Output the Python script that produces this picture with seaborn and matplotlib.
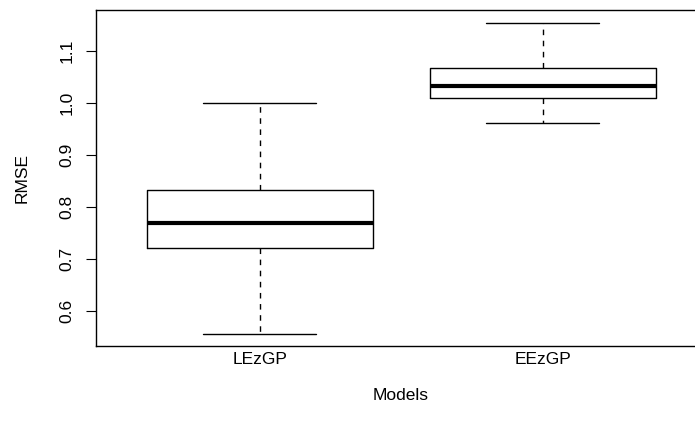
import numpy as np
import pandas as pd
import matplotlib
matplotlib.use("Agg")
import matplotlib.pyplot as plt
import seaborn as sns

models = ["LEzGP", "EEzGP"]
# five-number summaries (min, Q1, median, Q3, max)
lezgp_vals = [0.557, 0.722, 0.769, 0.834, 1.001]
eezgp_vals = [0.963, 1.010, 1.034, 1.068, 1.155]

df = pd.DataFrame({
    "Models": ["LEzGP"] * len(lezgp_vals) + ["EEzGP"] * len(eezgp_vals),
    "RMSE": lezgp_vals + eezgp_vals,
})

sns.set_style("white")
plt.rcParams["font.family"] = ["Liberation Sans", "DejaVu Sans"]
for k in ["text.color", "axes.labelcolor", "xtick.color", "ytick.color", "axes.edgecolor"]:
    plt.rcParams[k] = "black"

fig = plt.figure(figsize=(6.95, 4.3), dpi=100)
W, H = 695, 430
left, right, top, bottom = 95.7, 707.0, 10.3, 346.0
ax = fig.add_axes([left / W, 1 - bottom / H, (right - left) / W, (bottom - top) / H])

sns.boxplot(
    data=df, x="Models", y="RMSE", order=models, ax=ax,
    width=0.8, whis=(0, 100), fill=False, color="black", linewidth=1.0,
    whiskerprops={"linestyle": (0, (4, 4)), "color": "black", "linewidth": 1.0},
    medianprops={"linewidth": 3.0, "color": "black"},
    capprops={"color": "black", "linewidth": 1.0},
    boxprops={"color": "black", "linewidth": 1.0},
)

ax.set_xlim(-0.58, 1.58)
y_lo = 0.6 - (346.0 - 311.3) / 520.0
y_hi = 0.6 + (311.3 - 10.3) / 520.0
ax.set_ylim(y_lo, y_hi)
ax.set_yticks([0.6, 0.7, 0.8, 0.9, 1.0, 1.1])
ax.set_yticklabels(["0.6", "0.7", "0.8", "0.9", "1.0", "1.1"], rotation=90, va="center")
ax.tick_params(axis="y", length=7, width=0.8, pad=8, labelsize=12.5, left=True,
               direction="out", colors="black")
ax.tick_params(axis="x", length=0, pad=4, labelsize=12.5, colors="black")
for s in ax.spines.values():
    s.set_color("black")
    s.set_linewidth(1.0)
    s.set_visible(True)

ax.set_xlabel("")
ax.set_ylabel("")
fig.text(22 / W, 1 - 178 / H, "RMSE", rotation=90, ha="center", va="center",
         fontsize=12.5, color="black")
fig.text(401 / W, 1 - 395 / H, "Models", ha="center", va="center",
         fontsize=12.5, color="black")

fig.savefig("out.png", dpi=100)
